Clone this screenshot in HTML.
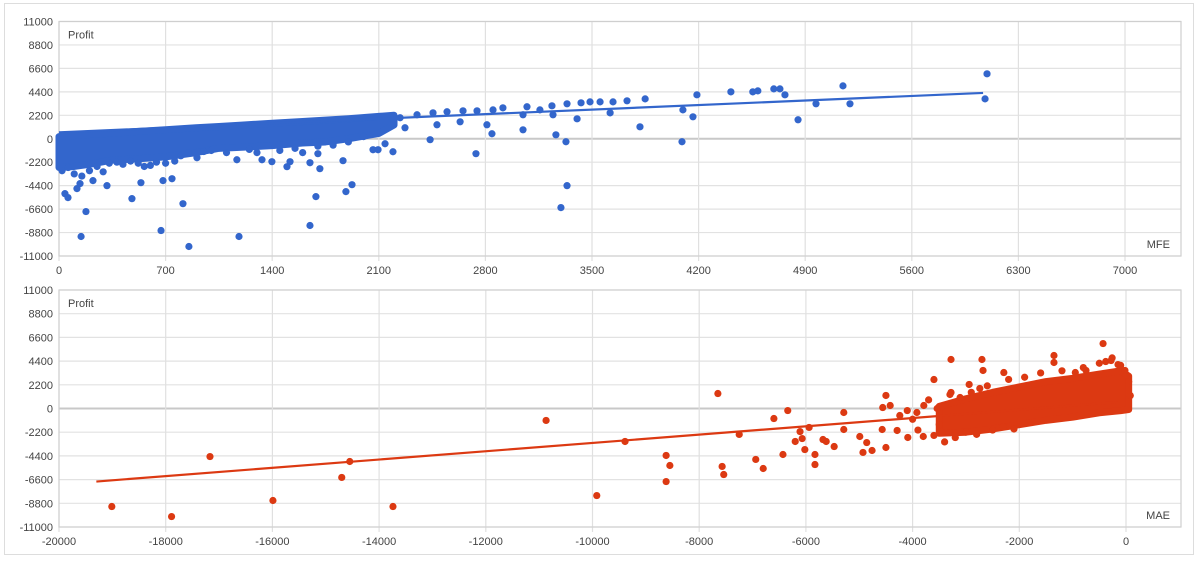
<!DOCTYPE html>
<html><head><meta charset="utf-8"><style>
body{margin:0;background:#fff;font-family:"Liberation Sans",sans-serif}
svg text{font-family:"Liberation Sans",sans-serif;font-size:11px;fill:#444}
</style></head><body>
<svg id="c" width="1200" height="559">
<rect x="4.5" y="3.5" width="1189" height="551" fill="#fff" stroke="#ddd"/>
</svg>
<script>
// ---- data: MFE chart ----
const mfeBandX = [0,100,200,350,500,700,900,1050,1200,1400,1600,1750,1900,2100,2200];
const mfeBandTop = [200,300,400,530,670,850,1030,1150,1280,1450,1620,1750,1880,2100,2200];
const mfeBandBottom = [-2700,-2600,-2400,-2000,-1900,-1700,-1300,-900,-800,-650,-400,-300,0,500,1300];
const mfePtsX = [39,59,118,138,177,145,223,315,479,538,670,683,814,853,742,1182,1648,1687,1884,1924,1648,1700,1713,1865,906,1168,1333,1398,1497,1517,2062,2095,2141,2193,2437,2738,2810,2843,3047,3263,3329,3336,3296,3402,3815,4091,4163,4097,4189,4412,4556,4589,4694,4734,4767,4853,3336,3428,3487,3553,3638,3730,3849,3073,3237,3158,2915,2745,2653,2548,2456,2351,2240,2634,2482,2272,2850,3047,3244,3619,4971,5148,5194,6094,6081,
 20,60,100,150,200,250,290,330,380,420,470,520,560,600,640,700,760,800,850,950,1000,1100,1250,1300,1450,1550,1600,1700,1800,1900,2000];
const mfePtsY = [-5150,-5520,-4680,-4210,-6830,-9170,-3930,-4400,-5620,-4120,-8610,-3930,-6090,-10110,-3750,-9170,-8140,-5430,-4960,-4310,-2250,-1400,-2810,-2060,-1780,-1970,-1970,-2150,-2620,-2150,-1030,-1030,-470,-1220,-90,-1400,1310,470,840,370,-280,-4400,-6460,1870,1120,-280,2060,2710,4120,4400,4400,4490,4680,4680,4120,1780,3280,3370,3460,3460,3460,3560,3740,3000,3090,2710,2900,2620,2620,2530,2430,2250,1970,1590,1310,1030,2710,2250,2250,2430,3280,4960,3280,6090,3740,
 -3000,-2700,-3300,-3500,-3000,-2600,-3100,-2300,-2200,-2400,-2100,-2300,-2600,-2500,-2200,-2300,-2100,-1600,-1300,-1200,-1100,-1300,-1000,-1300,-1100,-900,-1300,-700,-600,-300,200];
const mfeTrendX = [0,6068];
const mfeTrendY = [600,4300];
// ---- data: MAE chart ----
const maeBandX = [-3500,-3000,-2500,-2000,-1500,-1000,-500,-100,50];
const maeBandTop = [200,900,1500,2000,2500,2800,3200,3500,3000];
const maeBandBottom = [-2300,-2200,-1900,-1500,-1100,-800,-400,-200,-100];
const maePtsX = [-19010,-17890,-17170,-15990,-14700,-14550,-13740,-10870,-9920,-9390,-8620,-8550,-8620,-7650,-7570,-7540,-7250,-6940,-6800,-6600,-6430,-6340,-6200,-6110,-6070,-6020,-5940,-5830,-5830,-5680,-5620,-5470,-5290,-5290,-4990,-4930,-4860,-4760,-4570,-4560,-4500,-4500,-4420,-4240,-4290,-4100,-4090,-3920,-3790,-3600,-3540,-3280,-3280,-3110,-2940,-2700,-2680,-2740,-2290,-1350,-1350,-950,-750,-430,-380,-280,-260,-150,-20,
 -3600,-3400,-3200,-3000,-2800,-2500,-2300,-2100,-3700,-3300,-2900,-2600,-2200,-1900,-1600,-1200,-800,-500,-100,-4000,-3900,-3800,-3500,50,80];
const maePtsY = [-9100,-10030,-4460,-8540,-6400,-4920,-9100,-1110,-8080,-3060,-4360,-5290,-6780,1390,-5380,-6130,-2410,-4730,-5570,-930,-4270,-190,-3060,-2140,-2790,-3810,-1760,-4270,-5200,-2880,-3060,-3530,-370,-1950,-2600,-4080,-3160,-3900,-1950,90,1210,-3620,280,-650,-2040,-190,-2690,-370,280,2690,0,4550,1490,1020,2230,4550,3530,1860,3340,4920,4270,3340,3530,6030,4360,4450,4700,4080,3530,
 -2500,-3100,-2700,-2200,-2400,-2000,-1700,-1900,800,1300,1500,2100,2700,2900,3300,3500,3800,4200,4000,-1000,-2000,-2600,-1500,2500,1200];
const maeTrendX = [-19300,-150];
const maeTrendY = [-6780,600];
const yTicks = [11000,8800,6600,4400,2200,0,-2200,-4400,-6600,-8800,-11000];
const mfeTicks = [0,700,1400,2100,2800,3500,4200,4900,5600,6300,7000];
const maeTicks = [-20000,-18000,-16000,-14000,-12000,-10000,-8000,-6000,-4000,-2000,0];

const svg = document.getElementById('c');
const NS = 'http://www.w3.org/2000/svg';
function mk(tag, attrs, parent){const e=document.createElementNS(NS,tag);for(const k in attrs)e.setAttribute(k,attrs[k]);(parent||svg).appendChild(e);return e;}

function chart(cfg){
  const g = mk('g',{});
  
  
  const L=59,R=1181,T=cfg.top,B=cfg.bottom;
  const xs=v=>cfg.x0+(v-cfg.xmin)/(cfg.xmax-cfg.xmin)*(cfg.x1-cfg.x0);
  const ys=v=>T+(11000-v)/22000*(B-T);
  yTicks.forEach(t=>{
    const y=ys(t);
    const ln=mk('line',{x1:L,x2:R,y1:y,y2:y,stroke:t===0?'#c8c8c8':'#e2e2e2','stroke-width':t===0?2:1.2},g);
    
    
    const tx=mk('text',{x:53,y:y+4,'text-anchor':'end'},g);tx.textContent=t;
    
    
  });
  cfg.ticks.forEach(t=>{
    const x=xs(t);
    const ln=mk('line',{x1:x,x2:x,y1:T,y2:B+5,stroke:'#e0e0e0','stroke-width':1.2},g);
    
    
    const tx=mk('text',{x:x,y:B+18,'text-anchor':'middle'},g);tx.textContent=t;
    
    
  });
  const bx=mk('rect',{x:L,y:T,width:R-L,height:B-T,fill:'none',stroke:'#cfcfcf','stroke-width':1.2},g);
  
  
  let pts=[];
  cfg.bandX.forEach((v,i)=>pts.push(xs(v)+','+ys(cfg.bandTop[i])));
  for(let i=cfg.bandX.length-1;i>=0;i--)pts.push(xs(cfg.bandX[i])+','+ys(cfg.bandBottom[i]));
  const band=mk('polygon',{points:pts.join(' '),fill:cfg.color,stroke:cfg.color,'stroke-width':7,'stroke-linejoin':'round'},g);
  
  
  cfg.px.forEach((v,i)=>{
    const c=mk('circle',{cx:xs(v),cy:ys(cfg.py[i]),r:3.6,fill:cfg.color},g);
    
    
  });
  const tl=mk('line',{x1:xs(cfg.tx[0]),y1:ys(cfg.ty[0]),x2:xs(cfg.tx[1]),y2:ys(cfg.ty[1]),stroke:cfg.color,'stroke-width':2.2},g);
  
  
  const p=mk('text',{x:68,y:T+17},g);p.textContent='Profit';
  
  
  const xt=mk('text',{x:1170,y:B-8,'text-anchor':'end'},g);xt.textContent=cfg.xlabel;
  
  
}
chart({name:'mfe-chart',top:21.5,bottom:256,x0:59,x1:1125,xmin:0,xmax:7000,ticks:mfeTicks,
  bandX:mfeBandX,bandTop:mfeBandTop,bandBottom:mfeBandBottom,px:mfePtsX,py:mfePtsY,tx:mfeTrendX,ty:mfeTrendY,color:'#3366cc',xlabel:'MFE'});
chart({name:'mae-chart',top:290,bottom:527,x0:59,x1:1126,xmin:-20000,xmax:0,ticks:maeTicks,
  bandX:maeBandX,bandTop:maeBandTop,bandBottom:maeBandBottom,px:maePtsX,py:maePtsY,tx:maeTrendX,ty:maeTrendY,color:'#dc3912',xlabel:'MAE'});
</script>
</body></html>
